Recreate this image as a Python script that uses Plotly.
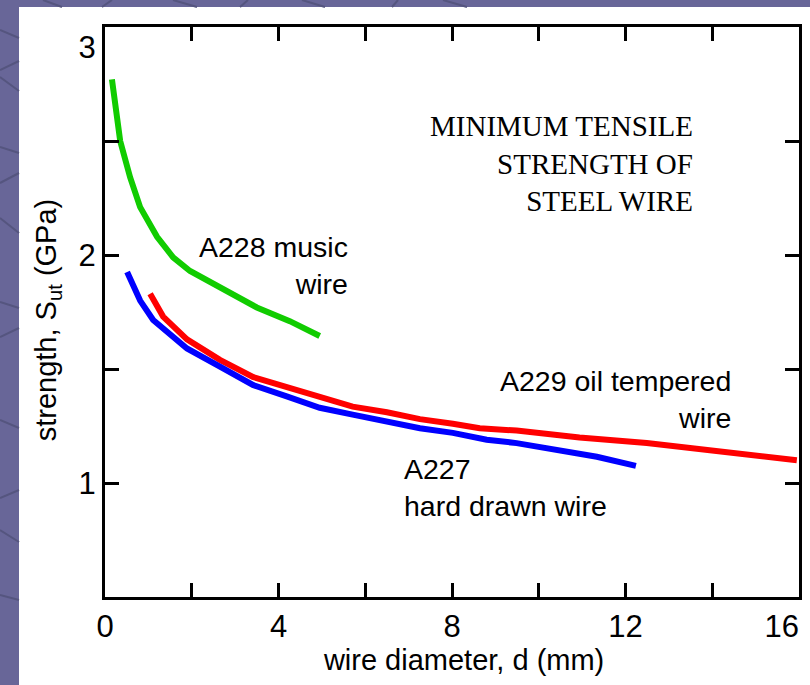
import plotly.graph_objects as go

# ---- data ----
a228_d = [0.16, 0.23, 0.35, 0.58, 0.81, 1.2, 1.57, 1.96, 2.72, 3.50, 4.26, 4.95]
a228_s = [2.77, 2.68, 2.50, 2.34, 2.21, 2.08, 1.99, 1.93, 1.85, 1.77, 1.71, 1.645]

a227_d = [0.51, 0.81, 1.11, 1.50, 1.89, 2.65, 3.41, 4.19, 4.95, 5.71, 6.50, 7.26, 8.02, 8.80, 9.49, 10.18, 11.34, 12.24]
a227_s = [1.925, 1.80, 1.715, 1.65, 1.59, 1.51, 1.43, 1.38, 1.33, 1.30, 1.27, 1.24, 1.22, 1.19, 1.175, 1.155, 1.115, 1.075]

a229_d = [1.04, 1.34, 1.89, 2.65, 3.41, 4.19, 4.95, 5.71, 6.50, 7.26, 8.02, 8.64, 9.49, 10.94, 12.49, 14.0, 15.95]
a229_s = [1.83, 1.73, 1.63, 1.54, 1.465, 1.42, 1.375, 1.335, 1.31, 1.28, 1.26, 1.24, 1.23, 1.20, 1.175, 1.145, 1.10]

x_ticks = [0, 2, 4, 6, 8, 10, 12, 14, 16]
x_ticktext = ["0", "", "4", "", "8", "", "12", "", "16&nbsp;&nbsp;&nbsp;&nbsp;"]
y_ticks = [0.5, 1.0, 1.5, 2.0, 2.5, 3.0]
y_ticktext = ["", "1", "", "2", "", "&nbsp;<br>3"]

W, H = 810, 685
L, R, T, B = 105, 11, 27, 88

fig = go.Figure()
fig.add_trace(go.Scatter(x=a228_d, y=a228_s, mode="lines",
                         line=dict(color="#11cc00", width=6), name="A228"))
fig.add_trace(go.Scatter(x=a229_d, y=a229_s, mode="lines",
                         line=dict(color="#ff0000", width=6), name="A229"))
fig.add_trace(go.Scatter(x=a227_d, y=a227_s, mode="lines",
                         line=dict(color="#0000ff", width=6), name="A227"))

def px2paper(px, py):
    return (px - L) / (W - L - R), (H - B - py) / (H - T - B)

shapes = []
# white panel
x0, y0 = px2paper(19, 7)
x1, y1 = px2paper(812, 690)
shapes.append(dict(type="rect", xref="paper", yref="paper", x0=x0, y0=y1, x1=x1, y1=y0,
                   fillcolor="white", line=dict(width=0), layer="below"))
# decorative diagonal lines in the purple border
deco = [((0, 30), (19, 38)), ((0, 70), (19, 61)), ((0, 77), (19, 91)),
        ((0, 147), (19, 153)), ((0, 183), (19, 173)), ((0, 218), (19, 233)),
        ((0, 302), (19, 308)), ((0, 337), (19, 328)), ((0, 420), (19, 428)),
        ((0, 498), (19, 490)), ((0, 530), (19, 542)), ((0, 595), (19, 600)),
        ((43, 0), (62, 7)), ((112, 0), (102, 7)), ((173, 0), (197, 7)),
        ((248, 0), (240, 7)), ((302, 0), (325, 7)), ((398, 0), (392, 7)),
        ((443, 0), (467, 7))]
for (a, b) in deco:
    xa, ya = px2paper(*a)
    xb, yb = px2paper(*b)
    shapes.append(dict(type="line", xref="paper", yref="paper", x0=xa, y0=ya, x1=xb, y1=yb,
                       line=dict(color="#55557f", width=2), layer="below"))

lab_font = dict(family="Liberation Sans, Arial, sans-serif", size=28.5, color="black")
annotations = [
    dict(x=13.6, y=2.40, xref="x", yref="y", showarrow=False, xanchor="right", yanchor="middle",
         align="right", text="MINIMUM TENSILE<br>STRENGTH OF<br>STEEL WIRE",
         font=dict(family="Liberation Serif, Times New Roman, serif", size=29, color="black")),
    dict(x=5.65, y=1.952, xref="x", yref="y", showarrow=False, xanchor="right", yanchor="middle",
         align="right", text="A228 music<br>wire", font=lab_font),
    dict(x=14.48, y=1.368, xref="x", yref="y", showarrow=False, xanchor="right", yanchor="middle",
         align="right", text="A229 oil tempered<br>wire", font=lab_font),
    dict(x=6.85, y=0.98, xref="x", yref="y", showarrow=False, xanchor="left", yanchor="middle",
         align="left", text="A227<br>hard drawn wire", font=lab_font),
]

axis_common = dict(showline=True, linecolor="black", linewidth=3, mirror="ticks",
                   ticks="inside", ticklen=14, tickwidth=3, tickcolor="black",
                   showgrid=False, zeroline=False, ticklabeloverflow="allow",
                   automargin=False,
                   tickfont=dict(family="Liberation Sans, Arial, sans-serif", size=31, color="black"),
                   title_font=dict(family="Liberation Sans, Arial, sans-serif", size=29, color="black"))

fig.update_layout(
    width=W, height=H,
    margin=dict(l=L, r=R, t=T, b=B, pad=0, autoexpand=False),
    paper_bgcolor="#686698",
    plot_bgcolor="#ffffcc",
    showlegend=False,
    shapes=shapes,
    annotations=annotations,
    xaxis=dict(range=[0, 16], tickvals=x_ticks, ticktext=x_ticktext,
               title=dict(text="&nbsp;&nbsp;&nbsp;wire diameter, d (mm)", standoff=2), **axis_common),
    yaxis=dict(range=[0.5, 3], tickvals=y_ticks, ticktext=y_ticktext,
               title=dict(text="strength, S<sub>ut</sub> (GPa)&nbsp;&nbsp;", standoff=14), **axis_common),
)

fig.write_html("out.html")
